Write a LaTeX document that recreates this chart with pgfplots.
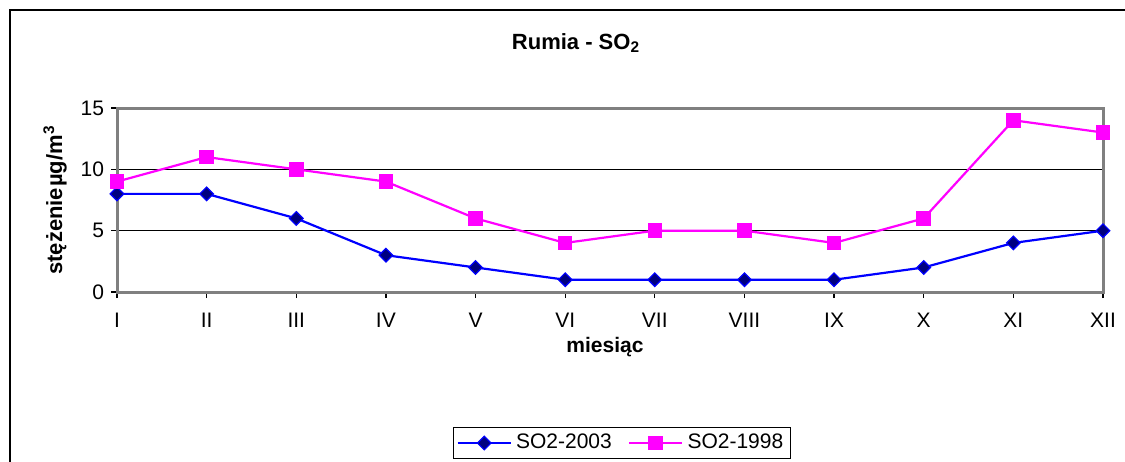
\documentclass[border=0pt]{standalone}
\usepackage{pgfplots}
\pgfplotsset{compat=1.18}
\usepackage{fontspec}
\setmainfont{Liberation Sans}
\definecolor{navy}{HTML}{000080}
\definecolor{mag}{HTML}{FF00FF}
\definecolor{frame}{HTML}{808080}
\begin{document}
\begin{tikzpicture}
\path[use as bounding box] (0,0) rectangle (562.5pt,230.5pt);
\begin{scope}
\clip (0,0) rectangle (562.5pt,230.5pt);
\draw[black, line width=1pt] (5pt,-5pt) -- (5pt,225.5pt) -- (570pt,225.5pt);
\end{scope}
\begin{axis}[
  at={(58.5pt,84.5pt)}, anchor=south west,
  scale only axis, width=493pt, height=92pt,
  xmin=0, xmax=11, ymin=0, ymax=15,
  xtick={0,...,11},
  xticklabels={I,II,III,IV,V,VI,VII,VIII,IX,X,XI,XII},
  ytick={0,5,10,15},
  xtick pos=bottom, ytick pos=left,
  tick align=outside,
  major tick length=3pt,
  tick style={black, line width=0.6pt},
  axis line style={frame, line width=1.5pt},
  ymajorgrids, grid style={black, line width=0.5pt},
  tick label style={font=\fontsize{10.5}{12}\selectfont},
  xticklabel style={yshift=-4pt},
  /pgf/number format/assume math mode=true,
  legend style={at={(0.512,-0.821)}, anchor=center, legend columns=2,
    draw=black, line width=0.5pt, font=\fontsize{10.5}{12}\selectfont,
    inner sep=1.5pt, /tikz/every even column/.append style={column sep=6pt}},
  legend image code/.code={\draw[mark repeat=2,mark phase=2] plot coordinates {(0cm,0cm) (0.47cm,0cm) (0.94cm,0cm)};},
]
\addplot[blue, line width=1.1pt, mark=square*, mark size=2.4pt,
  mark options={rotate=45, fill=navy, draw=blue, line width=0.6pt}]
  coordinates {(0,8) (1,8) (2,6) (3,3) (4,2) (5,1) (6,1) (7,1) (8,1) (9,2) (10,4) (11,5)};
\addlegendentry{SO2-2003}
\addplot[mag, line width=1.1pt, mark=square*, mark size=3.1pt,
  mark options={fill=mag, draw=mag}]
  coordinates {(0,9) (1,11) (2,10) (3,9) (4,6) (5,4) (6,5) (7,5) (8,4) (9,6) (10,14) (11,13)};
\addlegendentry{SO2-1998}
\end{axis}
\node[font=\bfseries\fontsize{11}{13}\selectfont] at (288pt,209pt) {Rumia - SO\textsubscript{2}};
\node[font=\bfseries\fontsize{11}{13}\selectfont, rotate=90] at (27.5pt,130.5pt) {stężenie\kern0.5pt µg/m\textsuperscript{3}};
\node[font=\bfseries\fontsize{10.5}{12}\selectfont] at (302.5pt,57pt) {miesiąc};
\end{tikzpicture}
\end{document}
